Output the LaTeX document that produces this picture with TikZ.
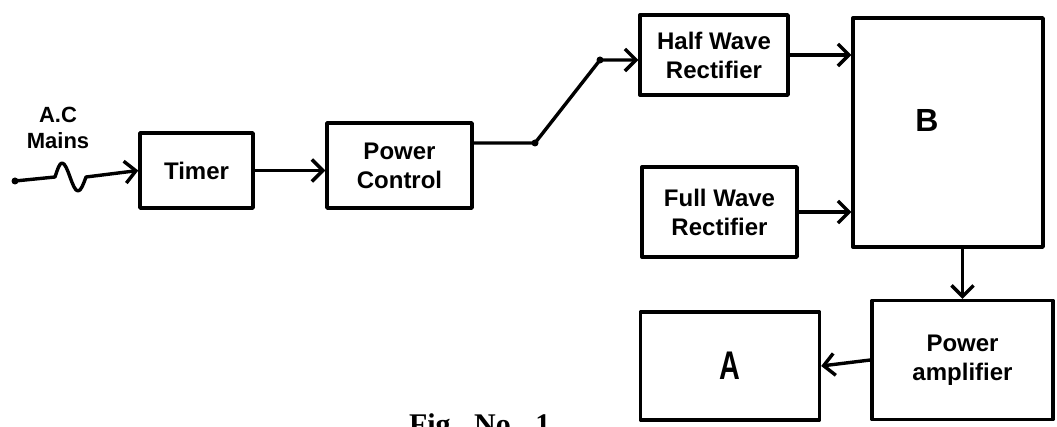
\documentclass[tikz,border=0pt]{standalone}
\usepackage{fontspec}
\setmainfont{Liberation Sans}
\newfontfamily\capfont{Liberation Serif}
\usetikzlibrary{arrows.meta, positioning}

\begin{document}
\begin{tikzpicture}[
    x=1pt, y=-1pt,
    line width=3.4pt,
    line join=round,
    every node/.style={font=\fontsize{24pt}{29pt}\selectfont\bfseries},
    block/.style={
        rectangle,
        draw,
        line width=3.4pt,
        inner sep=0pt,
        align=center
    },
    letter/.style={font=\fontsize{32pt}{32pt}\selectfont\bfseries},
    arrow/.style={line width=3.4pt, -{Straight Barb[length=11pt, width=22pt]}}
]
\useasboundingbox (0,0) rectangle (1057,427);

% blocks
\node[block, minimum width=113pt, minimum height=75pt] (timer) at (196.5,170.5) {Timer};
\node[block, minimum width=145pt, minimum height=85pt] (powerctl) at (399.5,165.5) {Power\\Control};
\node[block, minimum width=148pt, minimum height=80pt] (hwr) at (714,55) {Half Wave\\Rectifier};
\node[block, minimum width=155pt, minimum height=90pt] (fwr) at (719.5,212) {Full Wave\\Rectifier};
\node[block, minimum width=190pt, minimum height=229pt] (boxB) at (948,132.5) {};
\node[letter] (labB) at (927,120) {B};
\node[block, minimum width=181pt, minimum height=119pt] (pamp) at (962.5,360) {Power\\amplifier};
\node[block, minimum width=179pt, minimum height=108pt, letter] (boxA) at (730,366) {\scalebox{0.9}[1.25]{A}};

% input
\node[align=center, font=\fontsize{22pt}{26pt}\selectfont\bfseries] (acmains) at (58,128) {A.C\\Mains};
\coordinate (acin) at (15,181);
\coordinate (waveL) at (55,177);
\fill (acin) circle (3.5pt);
\draw[arrow] (acin) -- (waveL) sin ++(7,-14) cos ++(8,14) sin ++(8,14) cos ++(8,-14) -- (timer.west);

% signal path
\coordinate (kneeA) at (535,143);
\coordinate (kneeB) at (600,60);
\draw[arrow] (timer.east) -- (timer.east -| powerctl.west);
\draw[arrow] (powerctl.east |- kneeA) -- (kneeA) -- (kneeB) -- (kneeB -| hwr.west);
\fill (kneeA) circle (3.5pt);
\fill (kneeB) circle (3.5pt);
\draw[arrow] (hwr.east) -- (hwr.east -| boxB.west);
\draw[arrow] (fwr.east) -- (fwr.east -| boxB.west);
\draw[arrow] (boxB.south -| pamp.north) -- (pamp.north);
\draw[arrow] (pamp.west) -- (boxA.east);

% caption
\node[anchor=base west, font=\capfont\fontsize{30pt}{30pt}\selectfont\bfseries] (figno) at (404,434) {Fig.\hspace{16pt}No.\hspace{17pt}1};

\end{tikzpicture}
\end{document}
